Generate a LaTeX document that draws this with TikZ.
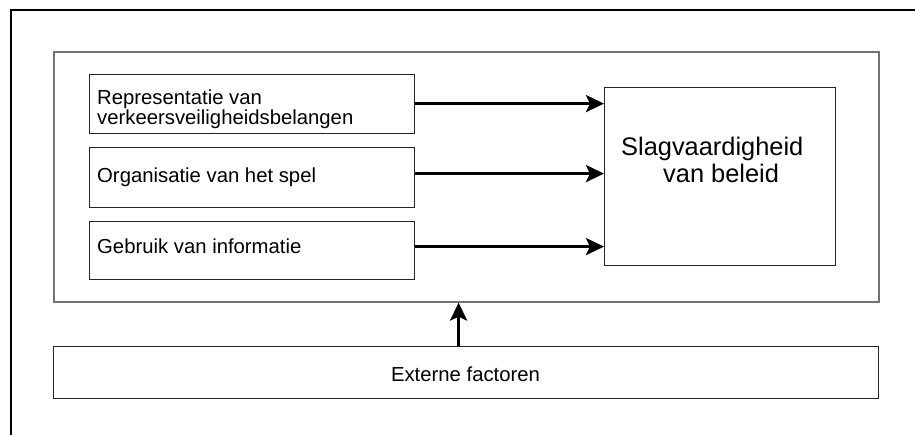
\documentclass[tikz,border=0pt]{standalone}
\usepackage{fontspec}
\setmainfont{Liberation Sans}
\usetikzlibrary{arrows.meta}
\begin{document}
\begin{tikzpicture}[x=1pt,y=-1pt,
  box/.style={draw=black!85, line width=1.2pt, inner sep=0pt, anchor=north west},
  frame/.style={draw=black!55, line width=1.6pt, inner sep=0pt, anchor=north west},
  txt/.style={inner sep=0pt, anchor=base west, font=\fontsize{20.3}{20}\selectfont},
  bigtxt/.style={inner sep=0pt, anchor=base west, font=\fontsize{25.4}{27}\selectfont},
  arr/.style={line width=3.3pt, -{Stealth[length=18pt,width=17pt,inset=4pt]}}]
\useasboundingbox (0,0) rectangle (915,435);
% outer frame (top and left only)
\draw[line width=2.2pt] (915,10) -- (11,10) -- (11,435);
% inner frame
\node[frame, minimum width=825, minimum height=250] (inner) at (53,51) {};
% left boxes
\node[box, minimum width=325, minimum height=59] (b1) at (89,74) {};
\node[box, minimum width=325, minimum height=60] (b2) at (89,147) {};
\node[box, minimum width=325, minimum height=58] (b3) at (89,221) {};
% right box
\node[box, minimum width=231, minimum height=178] (r) at (604,87) {};
% bottom box
\node[box, minimum width=825, minimum height=52] (ext) at (53,346) {};
% texts
\node[txt] (t1) at (97,105) {\vtop{\hbox{Representatie van}\hbox{verkeersveiligheidsbelangen}}};
\node[txt] (t2) at (97,182.7) {Organisatie van het spel};
\node[txt] (t3) at (97,253.3) {Gebruik van informatie};
\node[bigtxt] (tr) at (621,156) {\vtop{\hbox{Slagvaardigheid}\hbox{\hspace*{42pt}van beleid}}};
\node[txt, anchor=base] (te) at (465.5,381) {Externe factoren};
% arrows
\draw[arr] ([yshift=0.5pt]b1.east) coordinate (s1) -- (s1 -| r.west);
\draw[arr] ([yshift=4pt]b2.east) coordinate (s2) -- (s2 -| r.west);
\draw[arr] ([yshift=4pt]b3.east) coordinate (s3) -- (s3 -| r.west);
\draw[arr] ([xshift=-7.5pt]ext.north) coordinate (s4) -- (s4 |- inner.south);
\end{tikzpicture}
\end{document}
